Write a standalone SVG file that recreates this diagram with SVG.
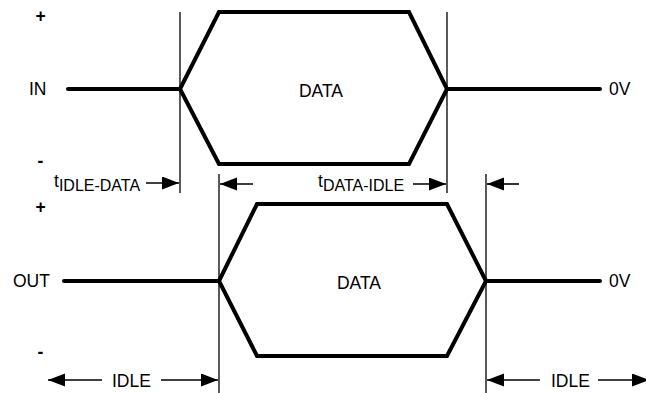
<svg xmlns="http://www.w3.org/2000/svg" width="646" height="393" viewBox="0 0 646 393">
<style>
text{font-family:"Liberation Sans",Arial,sans-serif;font-size:17.5px;fill:#000}
.wave{fill:none;stroke:#000;stroke-width:4;stroke-linecap:round;stroke-linejoin:miter}
.vl{stroke:#000;stroke-width:1.3}
.ar{stroke:#000;stroke-width:1.6;fill:none}
.sign{font-weight:bold;text-anchor:middle}
</style>
<defs>
<marker id="ah" markerUnits="userSpaceOnUse" markerWidth="19" markerHeight="14" refX="17" refY="6.5" orient="auto">
<path d="M0,0 L17,6.5 L0,13 Z" fill="#000"/>
</marker>
</defs>
<g id="in-signal">
<text x="29" y="95">IN</text>
<text class="sign" x="40.5" y="22">+</text>
<text class="sign" x="40.5" y="167">-</text>
<polyline class="wave" points="68,89 180,89"/>
<polygon class="wave" points="180,89 219,12 409,12 447,89 409,164 219,164"/>
<polyline class="wave" points="447,89 600,89"/>
<text x="321" y="97" text-anchor="middle">DATA</text>
<text x="609" y="95">0V</text>
</g>
<g id="out-signal">
<text x="13" y="287">OUT</text>
<text class="sign" x="40.5" y="213">+</text>
<text class="sign" x="40.5" y="358">-</text>
<polyline class="wave" points="64,281 219,281"/>
<polygon class="wave" points="219,281 257,204 447,204 486,281 447,356 257,356"/>
<polyline class="wave" points="486,281 600,281"/>
<text x="359" y="289" text-anchor="middle">DATA</text>
<text x="609" y="287">0V</text>
</g>
<g id="connectors">
<line class="vl" x1="180" y1="12" x2="180" y2="193"/>
<line class="vl" x1="447" y1="12" x2="447" y2="193"/>
<line class="vl" x1="219" y1="174" x2="219" y2="393"/>
<line class="vl" x1="486" y1="174" x2="486" y2="393"/>
<line class="ar" x1="146" y1="183" x2="179" y2="183" marker-end="url(#ah)"/>
<line class="ar" x1="413" y1="184" x2="446" y2="184" marker-end="url(#ah)"/>
<line class="ar" x1="253" y1="184" x2="220" y2="184" marker-end="url(#ah)"/>
<line class="ar" x1="519" y1="184" x2="487" y2="184" marker-end="url(#ah)"/>
<line class="ar" x1="102" y1="380" x2="48" y2="380" marker-end="url(#ah)"/>
<line class="ar" x1="161" y1="380" x2="218" y2="380" marker-end="url(#ah)"/>
<line class="ar" x1="540" y1="380" x2="487" y2="380" marker-end="url(#ah)"/>
<line class="ar" x1="598" y1="380" x2="649" y2="380" marker-end="url(#ah)"/>
</g>
<g id="labels">
<text x="54" y="187">t<tspan font-size="16" dy="4">IDLE-DATA</tspan></text>
<text x="318" y="187">t<tspan font-size="16" dy="4">DATA-IDLE</tspan></text>
<text x="112" y="387">IDLE</text>
<text x="551" y="387">IDLE</text>
</g>
</svg>
